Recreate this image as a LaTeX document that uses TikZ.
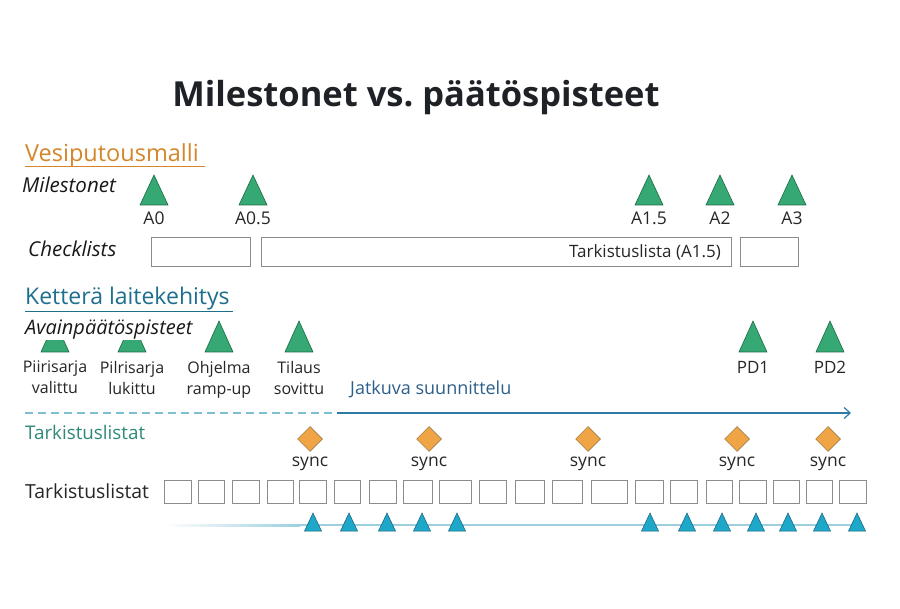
\documentclass[tikz,border=0pt]{standalone}
\usepackage{fontspec}
\setmainfont{Open Sans}
\usetikzlibrary{shapes.geometric,arrows.meta}

\definecolor{titleink}{HTML}{1E2227}
\definecolor{wforange}{HTML}{D4862A}
\definecolor{agileblue}{HTML}{1E6F8E}
\definecolor{msgreen}{HTML}{35A874}
\definecolor{msgreendark}{HTML}{1F6B45}
\definecolor{syncfill}{HTML}{EFA446}
\definecolor{syncedge}{HTML}{8B6B3C}
\definecolor{sprintfill}{HTML}{1DA7C9}
\definecolor{sprintedge}{HTML}{1B5E75}
\definecolor{planlight}{HTML}{7DC0D2}
\definecolor{plandark}{HTML}{2E7BA6}
\definecolor{plantext}{HTML}{2C5F8A}
\definecolor{chkteal}{HTML}{2E8A78}
\definecolor{linecyan}{HTML}{9CCFDF}

\tikzset{
  lbl/.style={font=\fontsize{17.5}{20}\selectfont,text=black!85},
  rowname/.style={font=\itshape\fontsize{20.5}{24}\selectfont,text=black!90,anchor=base west},
  heading/.style={font=\fontsize{23.5}{27}\selectfont,anchor=base west},
  mstone/.style={fill=msgreen,draw=msgreendark,line width=0.6pt},
  sprint/.style={fill=sprintfill,draw=sprintedge,line width=0.5pt},
  syncmark/.style={diamond,aspect=1,minimum size=25pt,fill=syncfill,draw=syncedge,line width=0.5pt},
  chkbox/.style={draw=black!45,line width=0.8pt},
}

\begin{document}
\begin{tikzpicture}[x=1pt,y=-1pt,every node/.style={inner sep=0pt}]
	\path[fill=white] (0,0) rectangle (900,609); % whole slide
	% title
	\node[anchor=base,font=\bfseries\fontsize{34.5}{40}\selectfont,text=titleink] (title) at (416,107) {Milestonet vs.\ päätöspisteet};
	% waterfall part
	\node[heading,text=wforange] (vesi) at (25,162) {Vesiputousmalli};
	\draw[wforange,line width=0.9pt] (25,166) -- (205,166);
	\node[rowname] (miles) at (22,193) {Milestonet};
	\foreach \x/\lab/\nm in {154/A0/a0, 253/A0.5/a05, 649/A1.5/a15, 720/A2/a2, 792/A3/a3}{
		\filldraw[mstone] (\x-14,205) -- (\x+14,205) -- (\x,175) -- cycle;
		\node[lbl,anchor=base] (\nm) at (\x,225) {\lab};
	}
	\node[rowname] (checkl) at (28,257) {Checklists};
	\draw[chkbox] (151,237) rectangle (250,266);
	\draw[chkbox] (261,237) rectangle (731,266);
	\draw[chkbox] (740,237) rectangle (798,266);
	\node[lbl,anchor=base east,font=\fontsize{17}{20}\selectfont] (tlista) at (721,258) {Tarkistuslista (A1.5)};
	% agile part
	\node[heading,text=agileblue,font=\fontsize{23}{27}\selectfont] (ketter) at (25,305) {Ketterä laitekehitys};
	\draw[agileblue,line width=0.9pt] (25,311) -- (233,311);
	\foreach \x in {55,132,219,299,753,830}
		\filldraw[mstone] (\x-14,352) -- (\x+14,352) -- (\x,321) -- cycle;
	\node[rowname,fill=white,font=\itshape\fontsize{20}{24}\selectfont] (avain) at (25,335) {Avainpäätöspisteet};
	\foreach \x/\lab/\nm in {55/{Piirisarja\\valittu}/kp1, 132/{Pilrisarja\\lukittu}/kp2, 219/{Ohjelma\\ramp-up}/kp3, 299/{Tilaus\\sovittu}/kp4}
		\node[lbl,font=\fontsize{16}{21}\selectfont,align=center,anchor=north] (\nm) at (\x,361) {\lab};
	\node[lbl,anchor=base,font=\fontsize{17}{20}\selectfont] (pd1) at (753,374) {PD1};
	\node[lbl,anchor=base,font=\fontsize{17}{20}\selectfont] (pd2) at (830,374) {PD2};
	% continuous planning arrow
	\node[lbl,text=plantext,anchor=base west,font=\fontsize{18}{21}\selectfont] (jatk) at (350,395) {Jatkuva suunnittelu};
	\coordinate (planS) at (25,413);
	\coordinate (planM) at (337,413);
	\coordinate (planE) at (851,413);
	\draw[planlight,line width=1.2pt,dash pattern=on 8pt off 5pt] (planS) -- (planM);
	\draw[plandark,line width=1.2pt,-{Straight Barb[length=6pt,width=11pt]}] (planM) -- (planE);
	% sync points
	\node[heading,text=chkteal,font=\fontsize{18.8}{22}\selectfont] (tark1) at (25,440) {Tarkistuslistat};
	\foreach \x [count=\i] in {310,429,588,737,828}{
		\node[syncmark] (s\i) at (\x,439) {};
		\node[lbl,anchor=base] (sl\i) at (\x,467) {sync};
	}
	% checklist squares
	\node[heading,text=black!85,font=\fontsize{19.4}{23}\selectfont] (tark2) at (25,499) {Tarkistuslistat};
	\foreach \a/\b in {164/191,198/224,232/259,267/293,299/326,334/360,369/396,403/432,439/471,479/506,515/544,552/582,591/627,635/663,670/697,706/732,739/766,773/799,806/832,839/866}
		\draw[chkbox] (\a,480) rectangle (\b,503);
	% sprint line
	\coordinate (sprS) at (164,525);
	\coordinate (sprF) at (300,525);
	\coordinate (sprE) at (857,525);
	\shade[left color=white,right color=linecyan] (164,524) rectangle (300,526.2);
	\draw[linecyan,line width=2pt] (sprF) -- (sprE);
	\foreach \x in {313,349,387,422,457,650,687,722,756,788,822,857}
		\filldraw[sprint] (\x-8.5,531) -- (\x+8.5,531) -- (\x,513) -- cycle;
\end{tikzpicture}
\end{document}
